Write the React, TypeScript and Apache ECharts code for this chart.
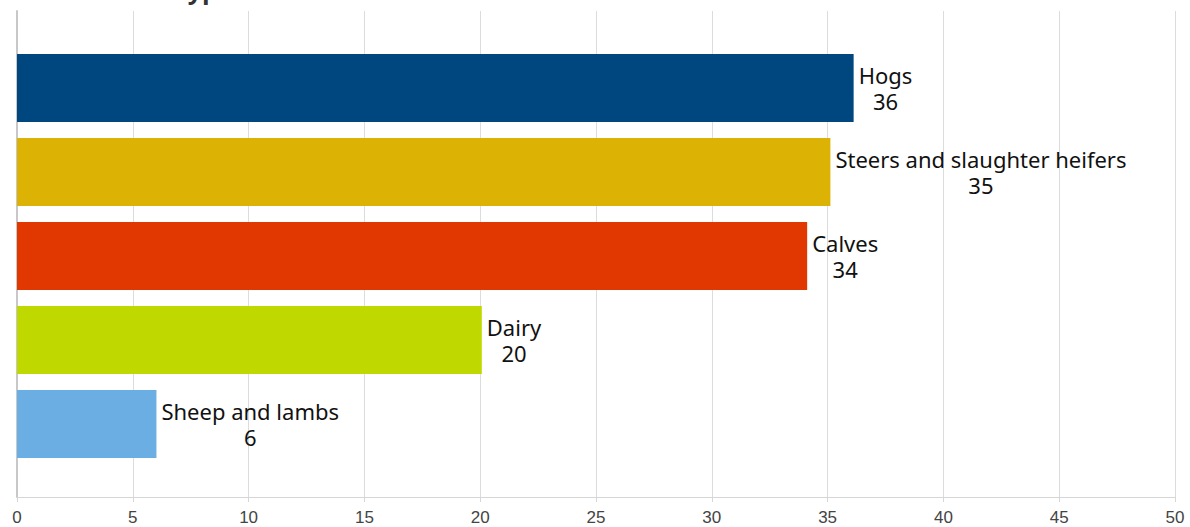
import React, { useEffect, useRef } from "react";
import * as echarts from "echarts";

const categories = ["Hogs", "Steers and slaughter heifers", "Calves", "Dairy", "Sheep and lambs"];
const values = [36, 35, 34, 20, 6];
const colors = ["#00477F", "#DCB305", "#E03800", "#BFD800", "#6AAEE4"];
const xTicks = [0, 5, 10, 15, 20, 25, 30, 35, 40, 45, 50];
const titleText = "Livestock Type";

export default function App() {
  const ref = useRef<HTMLDivElement>(null);
  useEffect(() => {
    if (!ref.current) return;
    const chart = echarts.init(ref.current, undefined, { renderer: "svg" });
    const xMin = xTicks[0];
    const xMax = xTicks[xTicks.length - 1];
    const interval = xTicks[1] - xTicks[0];
    chart.setOption({
      animation: false,
      backgroundColor: "#ffffff",
      graphic: [
        {
          type: "text",
          left: 49,
          top: -24,
          style: {
            text: titleText,
            font: "bold 25px 'Open Sans', sans-serif",
            fill: "#333333",
          },
        },
      ],
      grid: [
        { left: 17, right: 15, top: 11, bottom: 30, containLabel: false },
        { left: 17, right: 11, top: 46, bottom: 61, containLabel: false },
      ],
      xAxis: [
        {
          gridIndex: 0,
          type: "value",
          min: xMin,
          max: xMax,
          interval,
          axisLine: { show: true, lineStyle: { color: "#d6d6d6", width: 1 } },
          axisTick: { show: true, length: 5, lineStyle: { color: "#d6d6d6" } },
          splitLine: { show: true, lineStyle: { color: "#dcdcdc", width: 1 } },
          axisLabel: {
            color: "#444444",
            fontSize: 17,
            fontFamily: "'Liberation Sans', Arial, sans-serif",
            margin: 12,
          },
        },
        {
          gridIndex: 1,
          type: "value",
          min: xMin,
          max: xMax,
          interval,
          show: false,
        },
      ],
      yAxis: [
        {
          gridIndex: 0,
          type: "value",
          min: 0,
          max: 1,
          axisLine: { show: true, lineStyle: { color: "#c8c8c8", width: 2 } },
          axisTick: { show: false },
          axisLabel: { show: false },
          splitLine: { show: false },
        },
        {
          gridIndex: 1,
          type: "category",
          data: categories,
          inverse: true,
          show: false,
        },
      ],
      series: [
        {
          type: "bar",
          xAxisIndex: 1,
          yAxisIndex: 1,
          barCategoryGap: "19%",
          data: values.map((v, i) => ({ value: v, itemStyle: { color: colors[i] } })),
          label: {
            show: true,
            position: "right",
            distance: 5,
            formatter: (p: any) => `{a|${categories[p.dataIndex]}}\n{a|${p.value}}`,
            rich: {
              a: {
                align: "center",
                fontSize: 22,
                lineHeight: 26,
                color: "#111111",
                fontFamily: "'Noto Sans', sans-serif",
              },
            },
          },
        },
      ],
    });
    return () => chart.dispose();
  }, []);
  return <div ref={ref} style={{ width: 1190, height: 527, position: "absolute", left: 0, top: 0 }} />;
}
